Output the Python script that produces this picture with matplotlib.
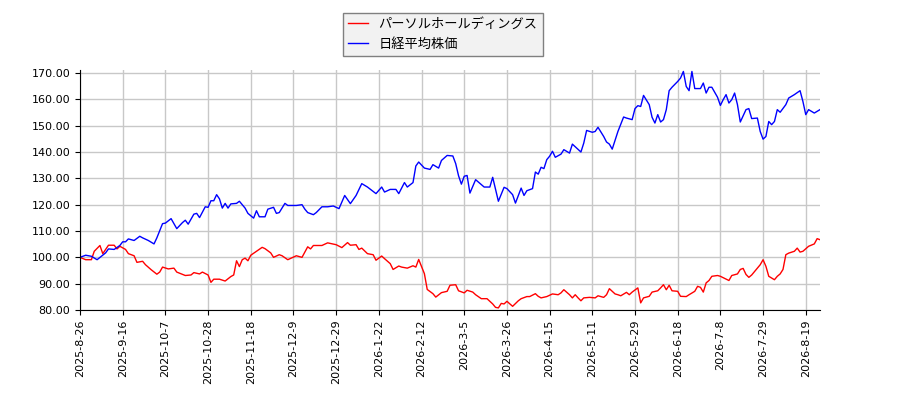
# パーソルホールディングス vs 日経平均株価 (start = 100)

import matplotlib
matplotlib.use("Agg")
import matplotlib.pyplot as plt

plt.rcParams['font.family'] = ['Noto Sans CJK JP', 'DejaVu Sans']

# trading-day index -> value
persol_day = [0, 2, 4, 5, 7, 8, 9, 10, 12, 13, 14, 16, 17, 19, 20, 22, 23, 25, 27, 28,
              29, 31, 33, 34, 37, 39, 40, 42, 43, 45, 46, 47, 49, 51, 53, 54, 55, 56, 57, 58,
              59, 60, 62, 64, 65, 67, 68, 70, 71, 73, 75, 76, 78, 80, 81, 82, 85, 87, 90, 92,
              94, 95, 97, 98, 99, 101, 103, 104, 106, 107, 109, 110, 112, 113, 115, 117, 118, 119, 121, 122,
              124, 125, 127, 129, 130, 132, 133, 135, 136, 138, 139, 141, 143, 145, 146, 147, 148, 149, 150, 152,
              154, 155, 157, 158, 160, 161, 162, 164, 166, 168, 169, 170, 172, 173, 174, 175, 176, 177, 179, 181,
              182, 184, 185, 186, 188, 189, 190, 192, 193, 194, 196, 197, 198, 200, 201, 203, 204, 205, 206, 207,
              208, 210, 211, 213, 214, 216, 217, 218, 219, 220, 221, 222, 224, 225, 228, 229, 231, 232, 233, 234,
              235, 236, 238, 239, 240, 241, 242, 244, 245, 246, 247, 248, 249, 251, 252, 253, 254, 256, 258, 259,
              260]
persol = [100.0, 99.1, 99.1, 102.3, 104.5, 101.4, 103.0, 104.6, 104.6, 103.2, 104.2, 103.0, 101.4, 100.6, 98.1, 98.5, 97.2, 95.3, 93.6, 94.4,
          96.3, 95.6, 95.9, 94.4, 93.1, 93.3, 94.2, 93.7, 94.4, 93.3, 90.5, 91.7, 91.7, 91.0, 92.7, 93.3, 98.7, 96.5, 99.1, 99.7,
          98.7, 100.8, 102.3, 103.8, 103.3, 101.7, 100.0, 101.0, 100.6, 99.1, 100.1, 100.6, 100.0, 104.0, 103.2, 104.5, 104.5, 105.5, 104.8, 103.7,
          105.6, 104.6, 104.8, 103.0, 103.5, 101.4, 101.0, 98.9, 100.5, 99.5, 97.6, 95.4, 96.7, 96.3, 95.9, 96.8, 96.3, 99.2, 93.8, 87.8,
          86.2, 84.9, 86.6, 87.1, 89.4, 89.6, 87.3, 86.5, 87.5, 86.8, 85.8, 84.3, 84.3, 82.3, 81.0, 80.8, 82.5, 82.3, 83.3, 81.4,
          83.5, 84.3, 85.1, 85.1, 86.2, 85.2, 84.6, 85.1, 86.1, 85.8, 86.5, 87.7, 85.8, 84.6, 85.8, 84.6, 83.5, 84.6, 84.8, 84.6,
          85.4, 84.8, 85.8, 88.1, 86.1, 85.8, 85.4, 86.7, 85.8, 86.8, 88.4, 82.7, 84.6, 85.2, 86.8, 87.3, 88.4, 89.6, 87.7, 89.4,
          87.3, 87.1, 85.2, 85.1, 85.8, 87.1, 89.0, 88.6, 86.8, 90.3, 91.2, 92.8, 93.1, 92.8, 91.2, 93.1, 93.7, 95.4, 95.8, 93.5,
          92.4, 93.3, 95.9, 97.2, 99.1, 96.6, 92.8, 91.5, 92.8, 93.7, 95.4, 101.0, 101.6, 102.3, 103.5, 102.0, 102.3, 104.2, 105.1, 107.1,
          106.7]

nikkei_day = [0, 2, 4, 6, 9, 10, 12, 14, 15, 16, 17, 19, 21, 22, 24, 26, 27, 29, 30, 32,
              34, 36, 37, 38, 40, 41, 42, 44, 45, 46, 47, 48, 49, 50, 51, 52, 53, 55, 56, 58,
              59, 61, 62, 63, 65, 66, 68, 69, 70, 72, 73, 76, 78, 79, 80, 82, 83, 85, 87, 89,
              91, 93, 95, 97, 99, 101, 104, 106, 107, 109, 111, 112, 114, 115, 117, 118, 119, 121, 123, 124,
              126, 127, 129, 131, 132, 133, 134, 135, 136, 137, 139, 141, 142, 144, 145, 147, 149, 150, 152, 153,
              155, 156, 157, 159, 160, 161, 162, 163, 164, 165, 166, 167, 169, 170, 172, 173, 175, 176, 177, 178,
              180, 181, 182, 184, 185, 186, 187, 189, 191, 192, 194, 195, 196, 197, 198, 200, 201, 202, 203, 204,
              205, 206, 207, 208, 210, 211, 212, 213, 214, 215, 216, 218, 219, 220, 221, 222, 224, 225, 226, 227,
              228, 229, 230, 231, 232, 234, 235, 236, 238, 239, 240, 241, 242, 243, 244, 245, 246, 248, 249, 251,
              253, 254, 255, 256, 258, 260]
nikkei = [100.0, 100.8, 100.4, 99.1, 101.7, 103.2, 103.0, 104.5, 105.9, 105.9, 107.0, 106.4, 108.0, 107.4, 106.4, 105.1, 107.4, 112.8, 113.0, 114.7,
          110.9, 113.2, 114.1, 112.6, 116.4, 116.7, 115.1, 119.2, 119.0, 121.5, 121.5, 123.8, 122.2, 118.7, 120.5, 118.7, 120.3, 120.5, 121.3, 118.7,
          116.7, 114.9, 117.7, 115.4, 115.4, 118.3, 119.0, 116.7, 117.0, 120.5, 119.7, 119.7, 120.0, 118.3, 117.0, 116.2, 117.0, 119.2, 119.2, 119.5,
          118.5, 123.5, 120.4, 123.5, 128.0, 126.7, 124.2, 126.7, 124.8, 125.8, 125.8, 124.2, 128.4, 126.7, 128.4, 134.7, 136.2, 133.9, 133.4, 135.2,
          133.9, 136.8, 138.7, 138.5, 135.6, 131.0, 127.8, 130.8, 131.1, 124.4, 129.5, 127.6, 126.7, 126.7, 130.4, 121.3, 126.6, 126.1, 123.8, 120.6,
          126.3, 123.5, 125.3, 126.1, 132.4, 131.6, 134.2, 133.7, 137.1, 138.4, 140.3, 138.0, 139.2, 140.9, 139.6, 143.0, 141.0, 140.0, 143.4, 148.2,
          147.5, 147.8, 149.4, 145.9, 143.8, 143.0, 141.1, 147.8, 153.3, 152.9, 152.3, 156.5, 157.6, 157.3, 161.5, 158.0, 153.2, 151.0, 154.2, 151.4,
          152.3, 156.1, 163.3, 164.6, 166.8, 168.1, 170.6, 164.9, 163.3, 170.6, 164.1, 164.1, 166.2, 162.4, 164.6, 164.6, 160.8, 157.7, 159.9, 161.8,
          158.6, 159.9, 162.4, 158.0, 151.4, 156.1, 156.5, 152.7, 152.9, 147.8, 144.9, 145.9, 151.6, 150.4, 151.6, 156.1, 155.1, 158.0, 160.5, 161.8,
          163.3, 159.2, 154.2, 156.1, 154.8, 156.1]

tick_day = list(range(0, 256, 15))
tick_labels = ["2025-8-26", "2025-9-16", "2025-10-7", "2025-10-28", "2025-11-18", "2025-12-9",
               "2025-12-29", "2026-1-22", "2026-2-12", "2026-3-5", "2026-3-26", "2026-4-15",
               "2026-5-11", "2026-5-29", "2026-6-18", "2026-7-8", "2026-7-29", "2026-8-19"]

fig = plt.figure(figsize=(9, 4), dpi=100)
ax = fig.add_axes([0.0889, 0.225, 0.8222, 0.599])

ax.plot(persol_day, persol, color="red", lw=1, label="パーソルホールディングス")
ax.plot(nikkei_day, nikkei, color="blue", lw=1, label="日経平均株価")

ax.set_xlim(0, 260)
ax.set_ylim(80, 171)
ax.set_yticks(range(80, 171, 10))
ax.set_yticklabels([f"{v:.2f}" for v in range(80, 171, 10)], fontsize=8, family="DejaVu Sans")
ax.set_xticks(tick_day)
ax.set_xticklabels(tick_labels, rotation=90, fontsize=8, family="DejaVu Sans")
ax.grid(True, color="#c8c8c8", lw=1)
ax.set_axisbelow(True)
for s in ["top", "right"]:
    ax.spines[s].set_visible(False)

fig.legend(loc="upper center", bbox_to_anchor=(0.492, 0.985), fontsize=9.5,
           handlelength=1.5, facecolor="#f2f2f2", edgecolor="#808080",
           fancybox=False, framealpha=1)

fig.savefig("out.png")
